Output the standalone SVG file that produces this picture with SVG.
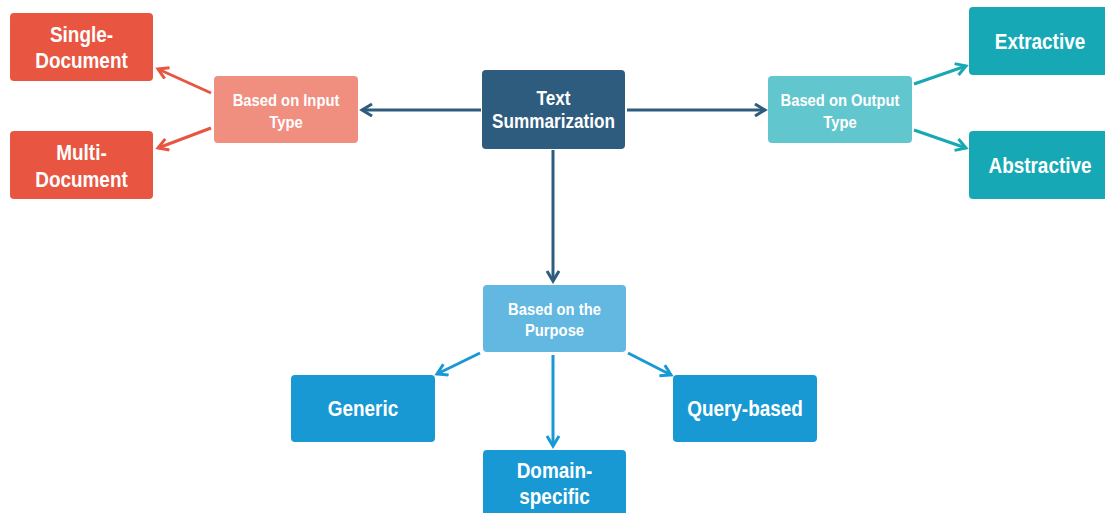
<svg xmlns="http://www.w3.org/2000/svg" width="1105" height="513" viewBox="0 0 1105 513">
  <style>
    .box { stroke: none; }
    .t { font-family: "Liberation Sans", Arial, sans-serif; font-weight: bold; fill: #ffffff; text-anchor: middle; }
    .leaf { font-size: 21.5px; }
    .mid { font-size: 16.8px; }
    .root { font-size: 19.5px; }
    .edge { fill: none; stroke-width: 3; }
  </style>
  <defs>
    <marker id="ah-dark" markerUnits="userSpaceOnUse" markerWidth="16" markerHeight="16" refX="12" refY="7" orient="auto">
      <path d="M2,1 L12,7 L2,13" fill="none" stroke="#2E5C7E" stroke-width="3"/>
    </marker>
    <marker id="ah-red" markerUnits="userSpaceOnUse" markerWidth="16" markerHeight="16" refX="12" refY="7" orient="auto">
      <path d="M2,1 L12,7 L2,13" fill="none" stroke="#E85642" stroke-width="3"/>
    </marker>
    <marker id="ah-teal" markerUnits="userSpaceOnUse" markerWidth="16" markerHeight="16" refX="12" refY="7" orient="auto">
      <path d="M2,1 L12,7 L2,13" fill="none" stroke="#16A9B5" stroke-width="3"/>
    </marker>
    <marker id="ah-blue" markerUnits="userSpaceOnUse" markerWidth="16" markerHeight="16" refX="12" refY="7" orient="auto">
      <path d="M2,1 L12,7 L2,13" fill="none" stroke="#1899D4" stroke-width="3"/>
    </marker>
  </defs>
  <rect width="1105" height="513" fill="#ffffff"/>

  <!-- connectors -->
  <g id="connectors">
    <line class="edge" stroke="#2E5C7E" x1="481" y1="110" x2="362" y2="110" marker-end="url(#ah-dark)"/>
    <line class="edge" stroke="#2E5C7E" x1="627" y1="110" x2="765" y2="110" marker-end="url(#ah-dark)"/>
    <line class="edge" stroke="#2E5C7E" x1="553" y1="150" x2="553" y2="281" marker-end="url(#ah-dark)"/>
    <line class="edge" stroke="#E85642" x1="211" y1="93" x2="158" y2="69" marker-end="url(#ah-red)"/>
    <line class="edge" stroke="#E85642" x1="211" y1="128" x2="158" y2="148" marker-end="url(#ah-red)"/>
    <line class="edge" stroke="#16A9B5" x1="914" y1="84" x2="966" y2="66" marker-end="url(#ah-teal)"/>
    <line class="edge" stroke="#16A9B5" x1="914" y1="130" x2="966" y2="148" marker-end="url(#ah-teal)"/>
    <line class="edge" stroke="#1899D4" x1="480" y1="353" x2="437" y2="374" marker-end="url(#ah-blue)"/>
    <line class="edge" stroke="#1899D4" x1="553" y1="355" x2="553" y2="446" marker-end="url(#ah-blue)"/>
    <line class="edge" stroke="#1899D4" x1="628" y1="353" x2="671" y2="375" marker-end="url(#ah-blue)"/>
  </g>

  <!-- labels use a horizontally condensed sans for a narrow look -->
  <g id="text-summarization">
    <rect class="box" x="482" y="70" width="143" height="79" rx="4" fill="#2E5C7E"/>
    <text class="t root" transform="translate(553.5,105) scale(0.88,1)">Text</text>
    <text class="t root" transform="translate(553.5,128) scale(0.88,1)">Summarization</text>
  </g>

  <g id="input-type">
    <rect class="box" x="214" y="76" width="144" height="67" rx="4" fill="#F08E80"/>
    <text class="t mid" transform="translate(286,106) scale(0.88,1)">Based on Input</text>
    <text class="t mid" transform="translate(286,128) scale(0.88,1)">Type</text>
  </g>

  <g id="single-document">
    <rect class="box" x="10" y="13" width="143" height="68" rx="4" fill="#E85642"/>
    <text class="t leaf" transform="translate(81.5,42) scale(0.88,1)">Single-</text>
    <text class="t leaf" transform="translate(81.5,68) scale(0.88,1)">Document</text>
  </g>

  <g id="multi-document">
    <rect class="box" x="10" y="131" width="143" height="68" rx="4" fill="#E85642"/>
    <text class="t leaf" transform="translate(81.5,160) scale(0.88,1)">Multi-</text>
    <text class="t leaf" transform="translate(81.5,187) scale(0.88,1)">Document</text>
  </g>

  <g id="output-type">
    <rect class="box" x="768" y="76" width="144" height="67" rx="4" fill="#62C6CE"/>
    <text class="t mid" transform="translate(840,106) scale(0.88,1)">Based on Output</text>
    <text class="t mid" transform="translate(840,128) scale(0.88,1)">Type</text>
  </g>

  <g id="extractive">
    <rect class="box" x="969" y="7" width="143" height="68" rx="4" fill="#16A9B5"/>
    <text class="t leaf" transform="translate(1040,49) scale(0.88,1)">Extractive</text>
  </g>

  <g id="abstractive">
    <rect class="box" x="969" y="131" width="143" height="68" rx="4" fill="#16A9B5"/>
    <text class="t leaf" transform="translate(1040,173) scale(0.88,1)">Abstractive</text>
  </g>

  <g id="purpose">
    <rect class="box" x="483" y="285" width="143" height="67" rx="4" fill="#62B8E0"/>
    <text class="t mid" transform="translate(554.5,315) scale(0.88,1)">Based on the</text>
    <text class="t mid" transform="translate(554.5,336) scale(0.88,1)">Purpose</text>
  </g>

  <g id="generic">
    <rect class="box" x="291" y="375" width="144" height="67" rx="4" fill="#1899D4"/>
    <text class="t leaf" transform="translate(363,416) scale(0.88,1)">Generic</text>
  </g>

  <g id="domain-specific">
    <rect class="box" x="483" y="450" width="143" height="70" rx="4" fill="#1899D4"/>
    <text class="t leaf" transform="translate(554.5,478) scale(0.88,1)">Domain-</text>
    <text class="t leaf" transform="translate(554.5,504) scale(0.88,1)">specific</text>
  </g>

  <g id="query-based">
    <rect class="box" x="673" y="375" width="144" height="67" rx="4" fill="#1899D4"/>
    <text class="t leaf" transform="translate(745,416) scale(0.88,1)">Query-based</text>
  </g>
</svg>
